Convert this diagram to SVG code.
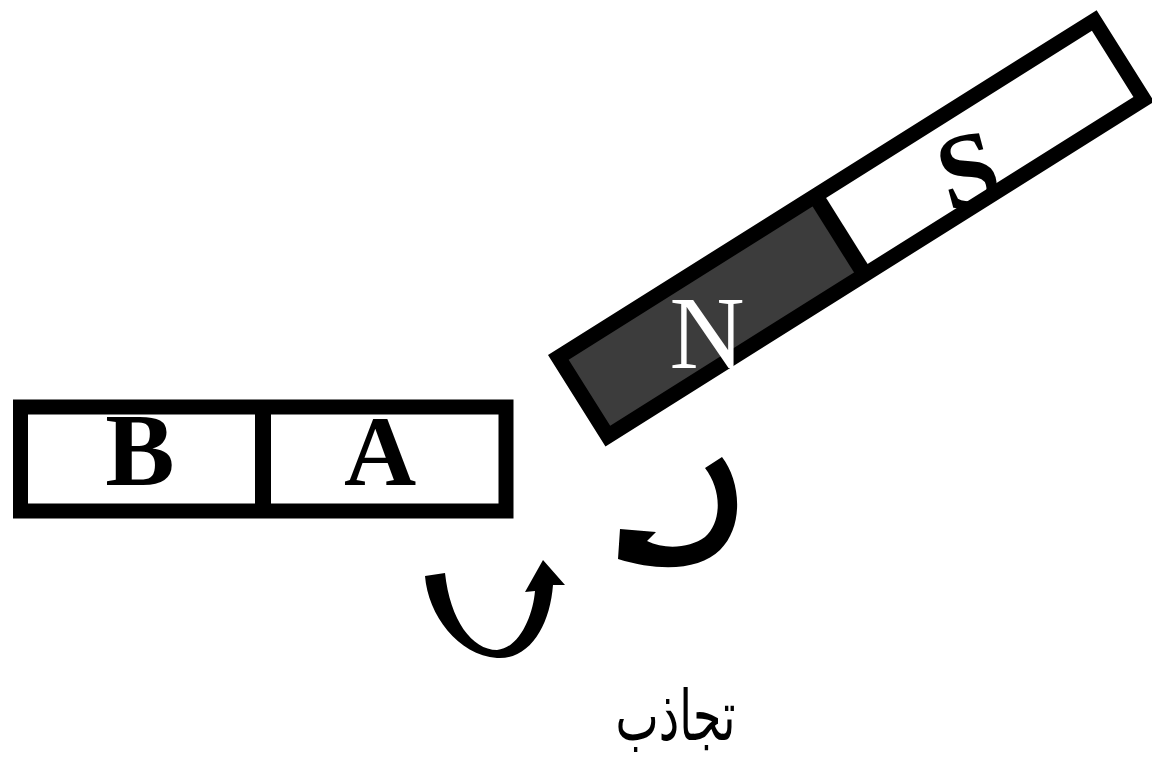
<svg xmlns="http://www.w3.org/2000/svg" width="1152" height="764" viewBox="0 0 1152 764">
<style>
.frame{fill:none;stroke:#000;stroke-width:15;stroke-linejoin:miter}
.div{stroke:#000;stroke-width:16}
.lbl{font-family:"Liberation Serif","Times New Roman",serif;text-anchor:middle}
.b{font-weight:bold;fill:#000}
.arr{fill:#000;stroke:none}
</style>
<rect width="1152" height="764" fill="#fff"/>
<g id="bar-AB">
<rect class="frame" x="20.5" y="407" width="485.5" height="104"/>
<line class="div" x1="263" y1="407" x2="263" y2="511"/>
<text class="lbl b" x="140" y="485" font-size="104">B</text>
<text class="lbl b" x="380" y="485" font-size="100">A</text>
</g>
<g id="magnet-NS">
<g transform="translate(548,355) rotate(-32.15)">
<rect x="7.5" y="7.5" width="303.5" height="93" fill="#3c3c3c"/>
<rect class="frame" x="7.5" y="7.5" width="633" height="93"/>
<line class="div" x1="311" y1="7.5" x2="311" y2="100.5"/>
</g>
<text class="lbl" x="707" y="368" font-size="104" fill="#fff">N</text>
<text class="lbl b" x="0" y="0" font-size="106" transform="translate(977,204) rotate(-15)">S</text>
</g>
<g id="connectors">
<path class="arr" d="M425,576 C428,615 458,655 497,658 C530,660 550,625 553,585 L565,585 L543,560 L525,592 L535,591 C533,615 520,648 497,650 C472,650 450,620 445,573 Z"/>
<path class="arr" d="M722,457 C740,480 745,525 720,550 C700,570 660,572 618,559 L620,529 L656,532 L647,541 C665,550 690,548 705,537 C722,522 722,490 705,468 Z"/>
</g>
<g id="label-attraction">
<text x="675.5" y="740" font-family="DejaVu Sans, sans-serif" font-size="70" text-anchor="middle" direction="rtl" textLength="120" lengthAdjust="spacingAndGlyphs">تجاذب</text>
</g>
</svg>
